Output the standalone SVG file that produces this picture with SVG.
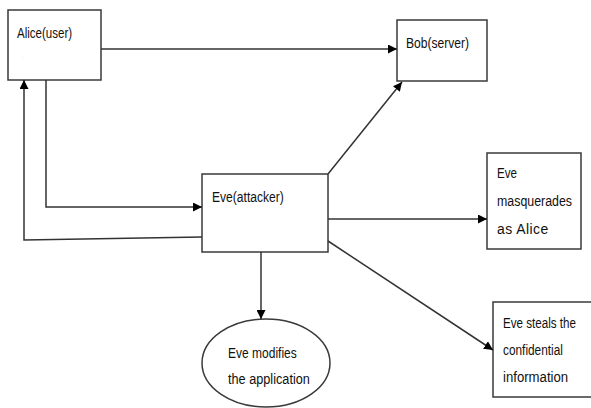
<svg xmlns="http://www.w3.org/2000/svg" width="591" height="408" viewBox="0 0 591 408">
<defs>
<marker id="ah" viewBox="0 0 10 10" refX="10" refY="5" markerWidth="9" markerHeight="9" markerUnits="userSpaceOnUse" orient="auto">
<path d="M0,0 L10,5 L0,10 Z" fill="#000"/>
</marker>
<style>
.box{fill:#fff;stroke:#3a3a3a;stroke-width:1.5}
.t{font-family:"Liberation Sans",Arial,sans-serif;font-size:15.5px;fill:#111}
.c{fill:none;stroke:#333;stroke-width:1.5}
</style>
</defs>
<rect width="591" height="408" fill="#fff"/>
<g id="alice">
<rect class="box" x="8" y="10" width="93" height="70"/>
<text class="t" transform="translate(17,38) scale(0.745,1)">Alice(user)</text>
<text x="22" y="58" font-family="Liberation Sans,sans-serif" font-size="6" fill="#e0c8a8">.</text>
</g>
<g id="bob">
<rect class="box" x="397" y="20" width="90" height="61"/>
<text class="t" transform="translate(406,48) scale(0.78,1)">Bob(server)</text>
</g>
<g id="eve">
<rect class="box" x="202" y="174" width="126" height="78"/>
<text class="t" transform="translate(212,202) scale(0.78,1)">Eve(attacker)</text>
</g>
<g id="masquerade">
<rect class="box" x="487" y="153" width="94" height="96"/>
<text class="t" transform="translate(497,178) scale(0.75,1)">Eve</text>
<text class="t" transform="translate(497,206) scale(0.8,1)">masquerades</text>
<text class="t" transform="translate(497,234) scale(0.9,1)" letter-spacing="0.5">as Alice</text>
</g>
<g id="steals">
<rect class="box" x="493" y="302" width="105" height="95"/>
<text class="t" transform="translate(503,328) scale(0.75,1)">Eve steals the</text>
<text class="t" transform="translate(503,355) scale(0.765,1)">confidential</text>
<text class="t" transform="translate(503,382) scale(0.85,1)">information</text>
</g>
<g id="modifies">
<ellipse class="box" cx="266" cy="363" rx="64" ry="44"/>
<text class="t" transform="translate(228,358) scale(0.775,1)">Eve modifies</text>
<text class="t" transform="translate(228,384) scale(0.82,1)">the application</text>
</g>
<g id="connectors">
<path class="c" d="M101,49 H397" marker-end="url(#ah)"/>
<path class="c" d="M46,80 V207 H202" marker-end="url(#ah)"/>
<path class="c" d="M202,237 L24,240 V80" marker-end="url(#ah)"/>
<path class="c" d="M328,174 L402,82" marker-end="url(#ah)"/>
<path class="c" d="M328,219 H487" marker-end="url(#ah)"/>
<path class="c" d="M328,241 L493,350" marker-end="url(#ah)"/>
<path class="c" d="M261,252 V319" marker-end="url(#ah)"/>
</g>
</svg>
